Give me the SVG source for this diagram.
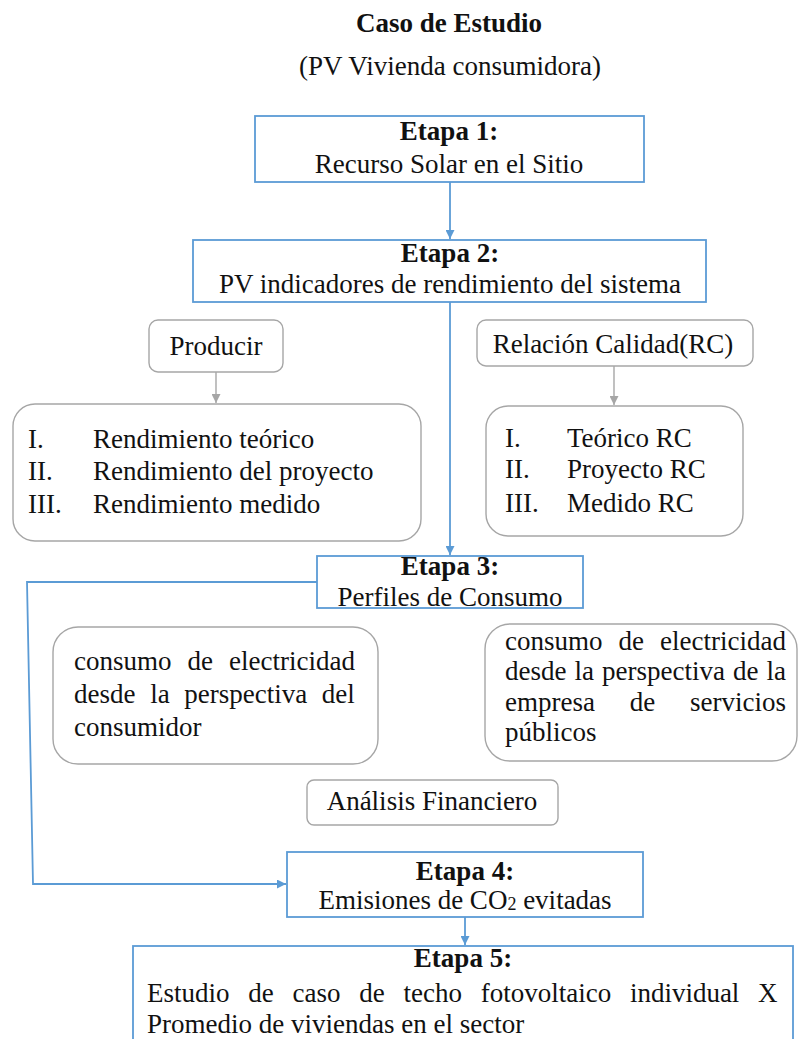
<svg xmlns="http://www.w3.org/2000/svg" width="798" height="1039" viewBox="0 0 798 1039">
<defs>
<style>
text{font-family:"Liberation Serif","Times New Roman",serif;font-size:27px;fill:#111}
.b{font-weight:bold}
.m{text-anchor:middle}
.stage{fill:#fff;stroke:#5b9bd5;stroke-width:1.8}
.gbox{fill:#fff;stroke:#a6a6a6;stroke-width:1.4}
.blue{fill:none;stroke:#5b9bd5;stroke-width:1.8}
.gray{fill:none;stroke:#a6a6a6;stroke-width:1.4}
</style>
<marker id="ab" viewBox="0 0 10 10" refX="10" refY="5" markerWidth="9" markerHeight="9" markerUnits="userSpaceOnUse" orient="auto"><path d="M0,0 L10,5 L0,10 z" fill="#5b9bd5"/></marker>
<marker id="ag" viewBox="0 0 10 10" refX="10" refY="5" markerWidth="9" markerHeight="9" markerUnits="userSpaceOnUse" orient="auto"><path d="M0,0 L10,5 L0,10 z" fill="#a6a6a6"/></marker>
</defs>
<rect width="798" height="1039" fill="#fff"/>
<g id="title">
<text class="b m" x="449" y="32">Caso de Estudio</text>
<text class="m" x="450" y="75">(PV Vivienda consumidora)</text>
</g>
<g id="connectors">
<path class="blue" d="M450,182 L450,239" marker-end="url(#ab)"/>
<path class="blue" d="M450,302 L450,555" marker-end="url(#ab)"/>
<path class="blue" d="M317,582 L27,582 L33,884 L286,884" marker-end="url(#ab)"/>
<path class="blue" d="M465,917 L465,945" marker-end="url(#ab)"/>
<path class="gray" d="M216,372 L216,403" marker-end="url(#ag)"/>
<path class="gray" d="M614,366 L614,405" marker-end="url(#ag)"/>
</g>
<g id="etapa1">
<rect class="stage" x="255" y="116" width="389" height="66"/>
<text class="b m" x="449" y="140">Etapa 1:</text>
<text class="m" x="449" y="173">Recurso Solar en el Sitio</text>
</g>
<g id="etapa2">
<rect class="stage" x="193" y="240" width="513" height="62"/>
<text class="b m" x="450" y="262">Etapa 2:</text>
<text class="m" x="450" y="293">PV indicadores de rendimiento del sistema</text>
</g>
<g id="producir">
<rect class="gbox" x="149" y="320" width="134" height="52" rx="9"/>
<text class="m" x="216" y="355">Producir</text>
</g>
<g id="rendimiento">
<rect class="gbox" x="13" y="404" width="408" height="137" rx="22"/>
<text x="28" y="448">I.</text><text x="93" y="448">Rendimiento teórico</text>
<text x="28" y="480">II.</text><text x="93" y="480">Rendimiento del proyecto</text>
<text x="28" y="513">III.</text><text x="93" y="513">Rendimiento medido</text>
</g>
<g id="relacion">
<rect class="gbox" x="477" y="320" width="276" height="46" rx="9"/>
<text class="m" x="613" y="353">Relación Calidad(RC)</text>
</g>
<g id="rc">
<rect class="gbox" x="486" y="406" width="257" height="130" rx="22"/>
<text x="505" y="447">I.</text><text x="567" y="447">Teórico RC</text>
<text x="505" y="478">II.</text><text x="567" y="478">Proyecto RC</text>
<text x="505" y="512">III.</text><text x="567" y="512">Medido RC</text>
</g>
<g id="etapa3">
<rect class="stage" x="317" y="556" width="266" height="52"/>
<text class="b m" x="450" y="575">Etapa 3:</text>
<text class="m" x="450" y="606">Perfiles de Consumo</text>
</g>
<g id="consumidor">
<rect class="gbox" x="53" y="627" width="325" height="137" rx="25"/>
<text x="74" y="670" word-spacing="9.3">consumo de electricidad</text>
<text x="74" y="703" word-spacing="7.9">desde la perspectiva del</text>
<text x="74" y="736">consumidor</text>
</g>
<g id="empresa">
<rect class="gbox" x="485" y="624" width="312" height="137" rx="25"/>
<text x="505" y="650" word-spacing="9.3">consumo de electricidad</text>
<text x="505" y="680" word-spacing="1.3">desde la perspectiva de la</text>
<text x="505" y="711" word-spacing="28">empresa de servicios</text>
<text x="505" y="741">públicos</text>
</g>
<g id="analisis">
<rect class="gbox" x="307" y="780" width="251" height="45" rx="7"/>
<text class="m" x="432" y="810">Análisis Financiero</text>
</g>
<g id="etapa4">
<rect class="stage" x="287" y="852" width="356" height="65"/>
<text class="b m" x="465" y="880">Etapa 4:</text>
<text class="m" x="465" y="909">Emisiones de CO<tspan font-size="18" dy="1">2</tspan><tspan dy="-1"> evitadas</tspan></text>
</g>
<g id="etapa5">
<rect class="stage" x="133" y="946" width="660" height="110"/>
<text class="b m" x="463" y="967">Etapa 5:</text>
<text x="147" y="1002" word-spacing="12">Estudio de caso de techo fotovoltaico individual X</text>
<text x="147" y="1033">Promedio de viviendas en el sector</text>
</g>
</svg>
